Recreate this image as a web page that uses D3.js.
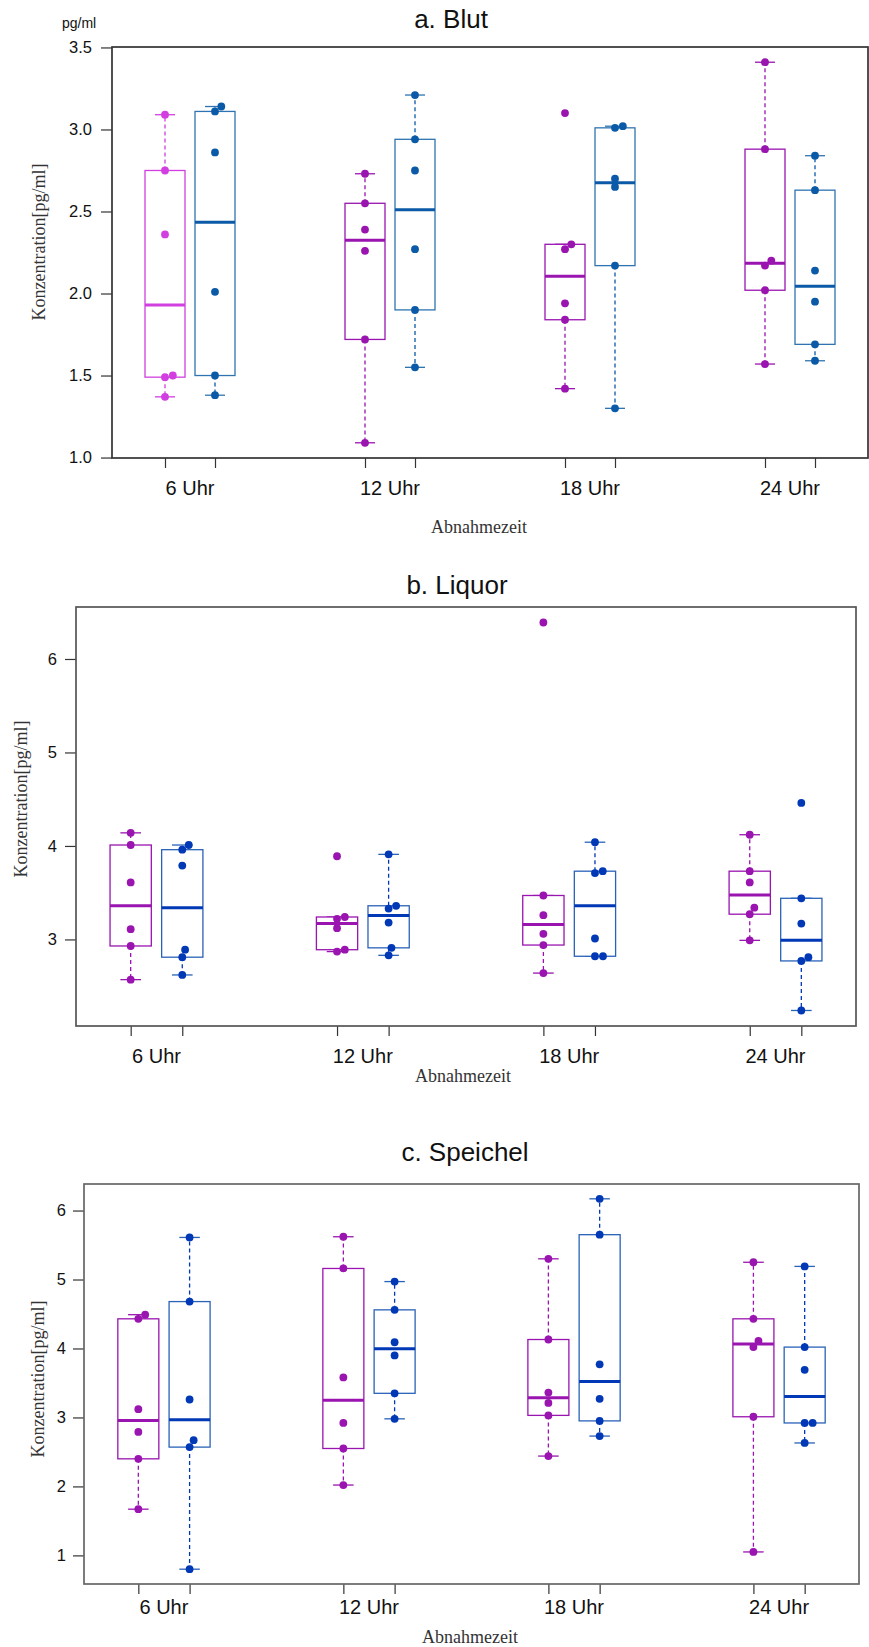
<!DOCTYPE html>
<html lang="de">
<head>
<meta charset="UTF-8">
<title>Konzentration</title>
<script src="https://d3js.org/d3.v7.min.js"></script>
<style>
  body { margin: 0; background: #fff; }
  svg text { font-family: "Liberation Sans", Arial, Helvetica, sans-serif; fill: #111; }
  svg text.serif { font-family: "Liberation Serif", "Times New Roman", serif; fill: #333; }
</style>
</head>
<body>
<div id="chart"></div>
<script>
// Abnahmezeitpunkte
const times = ["6 Uhr", "12 Uhr", "18 Uhr", "24 Uhr"];

// a. Blut - je Zeitpunkt sechs Messwerte, zwei Gruppen (lila / blau)
const blutLila = [
  [3.09, 2.75, 2.36, 1.50, 1.49, 1.37],
  [2.73, 2.55, 2.39, 2.26, 1.72, 1.09],
  [3.10, 2.30, 2.27, 1.94, 1.84, 1.42],
  [3.41, 2.88, 2.20, 2.17, 2.02, 1.57]
];
const blutBlau = [
  [3.14, 3.11, 2.86, 2.01, 1.50, 1.38],
  [3.21, 2.94, 2.75, 2.27, 1.90, 1.55],
  [3.02, 3.01, 2.70, 2.65, 2.17, 1.30],
  [2.84, 2.63, 2.14, 1.95, 1.69, 1.59]
];
const blutTicks = [1.0, 1.5, 2.0, 2.5, 3.0, 3.5];

// b. Liquor
const liquorLila = [
  [4.14, 4.01, 3.61, 3.11, 2.93, 2.57],
  [3.89, 3.24, 3.22, 3.12, 2.89, 2.87],
  [6.39, 3.47, 3.26, 3.06, 2.94, 2.64],
  [4.12, 3.73, 3.61, 3.34, 3.27, 2.99]
];
const liquorBlau = [
  [4.01, 3.96, 3.79, 2.89, 2.81, 2.62],
  [3.91, 3.36, 3.33, 3.18, 2.91, 2.83],
  [4.04, 3.73, 3.71, 3.01, 2.82, 2.82],
  [4.46, 3.44, 3.17, 2.81, 2.77, 2.24]
];
const liquorTicks = [3, 4, 5, 6];

// c. Speichel
const speichelLila = [
  [4.49, 4.43, 3.12, 2.79, 2.40, 1.67],
  [5.62, 5.16, 3.58, 2.92, 2.55, 2.02],
  [5.30, 4.13, 3.36, 3.21, 3.03, 2.44],
  [5.25, 4.43, 4.11, 4.02, 3.01, 1.05]
];
const speichelBlau = [
  [5.61, 4.68, 3.26, 2.67, 2.57, 0.80],
  [4.97, 4.56, 4.09, 3.90, 3.35, 2.98],
  [6.17, 5.65, 3.77, 3.27, 2.95, 2.73],
  [5.19, 4.02, 3.69, 2.92, 2.92, 2.63]
];
const speichelTicks = [1, 2, 3, 4, 5, 6];

// Farben
const lila = "#9a14b0", lilaHell = "#d23fe0";
const blauA = "#0b5aa8", blauABox = "#2f74b0";
const blau = "#0038b5", blauBox = "#2a62b8";

const W = 869, H = 1647;
const svg = d3.select("#chart").append("svg")
  .attr("width", W).attr("height", H)
  .style("background", "#fff");

const panels = [
  { title: "a. Blut", lila: blutLila, blau: blutBlau, ticks: blutTicks, fmt: d3.format(".1f"),
    frame: { l: 112, r: 868, t: 47, b: 458 }, titleX: 451, titleY: 28, tickLabX: 92, xLabY: 495,
    axisTitle: { x: 479, y: 533 }, yTitle: { x: 39, y: 242 }, unit: true, frameCol: "#333",
    lilaCols: [lilaHell, lila, lila, lila], blauCol: blauA, blauBoxCol: blauABox },
  { title: "b. Liquor", lila: liquorLila, blau: liquorBlau, ticks: liquorTicks, fmt: d3.format("d"),
    frame: { l: 76, r: 856, t: 607, b: 1026 }, titleX: 457, titleY: 594, tickLabX: 57, xLabY: 1063,
    axisTitle: { x: 463, y: 1082 }, yTitle: { x: 21, y: 799 }, frameCol: "#555",
    lilaCols: [lila, lila, lila, lila], blauCol: blau, blauBoxCol: blauBox },
  { title: "c. Speichel", lila: speichelLila, blau: speichelBlau, ticks: speichelTicks, fmt: d3.format("d"),
    frame: { l: 84, r: 859, t: 1184, b: 1584 }, titleX: 465, titleY: 1161, tickLabX: 66, xLabY: 1614,
    axisTitle: { x: 470, y: 1643 }, yTitle: { x: 38, y: 1379 }, frameCol: "#666",
    lilaCols: [lila, lila, lila, lila], blauCol: blau, blauBoxCol: blauBox }
];

// R-Stil Boxplot-Kennwerte (fivenum + 1.5 IQR)
function boxStats(vals) {
  const s = vals.slice().sort((a, b) => a - b);
  const n = s.length;
  const n4 = Math.floor((n + 3) / 2) / 2;
  const d = [1, n4, (n + 1) / 2, n + 1 - n4, n];
  const f = d.map(k => 0.5 * (s[Math.floor(k) - 1] + s[Math.ceil(k) - 1]));
  const c = 1.5 * (f[3] - f[1]);
  const inside = s.filter(v => v >= f[1] - c && v <= f[3] + c);
  return { q1: f[1], med: f[2], q3: f[3], lo: d3.min(inside), hi: d3.max(inside) };
}

// Punkte ohne Ueberlappung nach rechts versetzen
function swarm(vals, y, dist) {
  const placed = [];
  vals.slice().sort((a, b) => a - b).forEach(v => {
    const py = y(v);
    let dx = 0, moved = true;
    while (moved) {
      moved = false;
      for (const p of placed) {
        const dy = py - p.py;
        if (Math.hypot(dx - p.dx, dy) < dist - 1e-6) {
          dx = p.dx + Math.sqrt(dist * dist - dy * dy);
          moved = true;
        }
      }
    }
    placed.push({ v: v, py: py, dx: dx });
  });
  return placed;
}

panels.forEach(p => {
  const fr = p.frame;
  const g = svg.append("g");
  const all = p.lila.flat().concat(p.blau.flat());
  const ext = d3.extent(all);
  const pad = 0.04 * (ext[1] - ext[0]);
  const y = d3.scaleLinear().domain([ext[0] - pad, ext[1] + pad]).range([fr.b, fr.t]);
  const x = d3.scaleLinear().domain([-0.06, 15.06]).range([fr.l, fr.r]);

  // Titel
  g.append("text").attr("x", p.titleX).attr("y", p.titleY)
    .attr("text-anchor", "middle").style("font-size", "26px").text(p.title);
  if (p.unit) {
    g.append("text").attr("x", 62).attr("y", 28).style("font-size", "14px").text("pg/ml");
  }

  // y-Achse
  const yAxis = g.append("g").attr("transform", "translate(" + fr.l + ",0)")
    .call(d3.axisLeft(y).tickValues(p.ticks).tickFormat(p.fmt).tickSize(11).tickPadding(5));
  yAxis.select(".domain").remove();
  yAxis.selectAll(".tick line").attr("stroke", "#333").attr("stroke-width", 1.2);
  yAxis.selectAll(".tick text").attr("x", p.tickLabX - fr.l).attr("fill", "#111")
    .style("font-size", "16.5px").style("font-family", '"Liberation Sans", Arial, sans-serif');

  // x-Achse: Ticks an jeder Box, Beschriftung mittig je Zeitpunkt
  const pos = [];
  times.forEach((t, i) => { pos.push(4 * i + 1, 4 * i + 2); });
  const xAxis = g.append("g").attr("transform", "translate(0," + fr.b + ")")
    .call(d3.axisBottom(x).tickValues(pos).tickFormat("").tickSize(10));
  xAxis.select(".domain").remove();
  xAxis.selectAll(".tick line").attr("stroke", "#333").attr("stroke-width", 1.2);
  g.selectAll(".xlab").data(times).join("text")
    .attr("x", (d, i) => x(4 * i + 1.5)).attr("y", p.xLabY)
    .attr("text-anchor", "middle").style("font-size", "20px").text(d => d);

  // Rahmen
  g.append("rect").attr("x", fr.l).attr("y", fr.t)
    .attr("width", fr.r - fr.l).attr("height", fr.b - fr.t)
    .attr("fill", "none").attr("stroke", p.frameCol).attr("stroke-width", 1.7);

  // Achsentitel
  g.append("text").attr("class", "serif").attr("x", p.axisTitle.x).attr("y", p.axisTitle.y)
    .attr("text-anchor", "middle").style("font-size", "18px").text("Abnahmezeit");
  g.append("text").attr("class", "serif")
    .attr("transform", "translate(" + p.yTitle.x + "," + p.yTitle.y + ") rotate(-90)")
    .attr("text-anchor", "middle").attr("dy", "0.35em").style("font-size", "18px")
    .text("Konzentration[pg/ml]");

  const boxW = x(0.8) - x(0);
  const stapleW = boxW / 2;

  function drawBox(vals, at, col, boxCol, medCol) {
    const st = boxStats(vals);
    const cx = x(at);
    const b = g.append("g");
    // Whisker
    [[st.q3, st.hi], [st.q1, st.lo]].forEach(w => {
      b.append("line").attr("x1", cx).attr("x2", cx).attr("y1", y(w[0])).attr("y2", y(w[1]))
        .attr("stroke", col).attr("stroke-width", 1.3).attr("stroke-dasharray", "4,3");
      b.append("line").attr("x1", cx - stapleW / 2).attr("x2", cx + stapleW / 2)
        .attr("y1", y(w[1])).attr("y2", y(w[1]))
        .attr("stroke", boxCol).attr("stroke-width", 1.3);
    });
    b.append("rect").attr("x", cx - boxW / 2).attr("y", y(st.q3))
      .attr("width", boxW).attr("height", y(st.q1) - y(st.q3))
      .attr("fill", "#fff").attr("stroke", boxCol).attr("stroke-width", 1.3);
    b.append("line").attr("x1", cx - boxW / 2).attr("x2", cx + boxW / 2)
      .attr("y1", y(st.med)).attr("y2", y(st.med))
      .attr("stroke", medCol).attr("stroke-width", 3);
    b.selectAll("circle").data(swarm(vals, y, 8)).join("circle")
      .attr("cx", d => cx + d.dx).attr("cy", d => d.py).attr("r", 3.9)
      .attr("fill", col);
  }

  times.forEach((t, i) => {
    drawBox(p.lila[i], 4 * i + 1, p.lilaCols[i], p.lilaCols[i], p.lilaCols[i]);
    drawBox(p.blau[i], 4 * i + 2, p.blauCol, p.blauBoxCol, p.blauCol);
  });
});
</script>
</body>
</html>
